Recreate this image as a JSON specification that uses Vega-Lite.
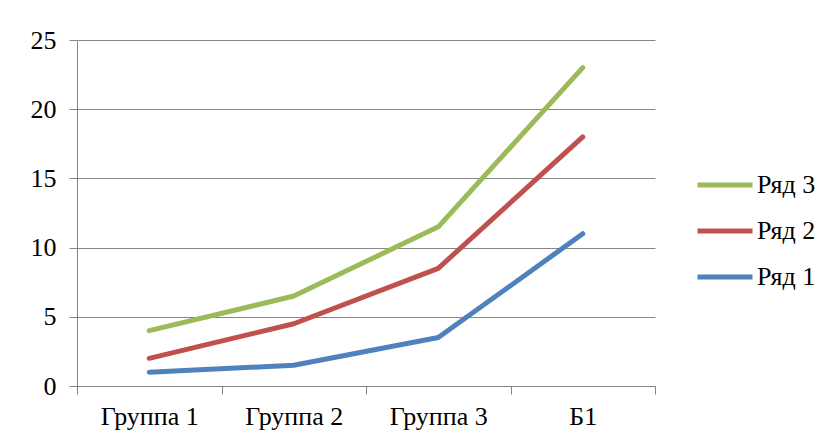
{
  "$schema": "https://vega.github.io/schema/vega-lite/v6.json",
  "width": 578,
  "height": 346,
  "autosize": "none",
  "padding": {"left": 77, "top": 40, "right": 172, "bottom": 57},
  "background": "white",
  "data": {"values": [
    {"cat": "Группа 1", "series": "Ряд 1", "value": 1},
    {"cat": "Группа 2", "series": "Ряд 1", "value": 1.5},
    {"cat": "Группа 3", "series": "Ряд 1", "value": 3.5},
    {"cat": "Б1", "series": "Ряд 1", "value": 11},
    {"cat": "Группа 1", "series": "Ряд 2", "value": 2},
    {"cat": "Группа 2", "series": "Ряд 2", "value": 4.5},
    {"cat": "Группа 3", "series": "Ряд 2", "value": 8.5},
    {"cat": "Б1", "series": "Ряд 2", "value": 18},
    {"cat": "Группа 1", "series": "Ряд 3", "value": 4},
    {"cat": "Группа 2", "series": "Ряд 3", "value": 6.5},
    {"cat": "Группа 3", "series": "Ряд 3", "value": 11.5},
    {"cat": "Б1", "series": "Ряд 3", "value": 23}
  ]},
  "mark": {"type": "line", "strokeWidth": 5, "strokeCap": "round", "strokeJoin": "round"},
  "encoding": {
    "x": {
      "field": "cat", "type": "nominal", "sort": null, "bandPosition": 0.5,
      "scale": {"type": "band", "paddingInner": 0, "paddingOuter": 0},
      "axis": {"title": null, "labelAngle": 0, "tickBand": "extent", "grid": false,
               "domainColor": "#868686", "tickColor": "#868686", "tickSize": 8,
               "labelPadding": 9, "labelFont": "Liberation Serif", "labelFontSize": 26,
               "labelColor": "black"}
    },
    "y": {
      "field": "value", "type": "quantitative",
      "scale": {"domain": [0, 25], "nice": false},
      "axis": {"title": null, "values": [0, 5, 10, 15, 20, 25], "grid": true,
               "gridColor": "#868686", "gridOpacity": 1, "domainColor": "#868686",
               "tickColor": "#868686", "tickSize": 8, "labelPadding": 13,
               "labelFont": "Liberation Serif", "labelFontSize": 26, "labelColor": "black"}
    },
    "color": {
      "field": "series", "type": "nominal",
      "scale": {"domain": ["Ряд 3", "Ряд 2", "Ряд 1"], "range": ["#9BBB59", "#C0504D", "#4F81BD"]},
      "legend": {"title": null, "orient": "none", "legendX": 618, "legendY": 115,
                 "symbolType": "stroke", "symbolSize": 3025, "symbolStrokeWidth": 5,
                 "labelFont": "Liberation Serif", "labelFontSize": 26, "labelColor": "black",
                 "labelOffset": 2, "rowPadding": 3}
    }
  },
  "config": {"view": {"stroke": null}}
}
